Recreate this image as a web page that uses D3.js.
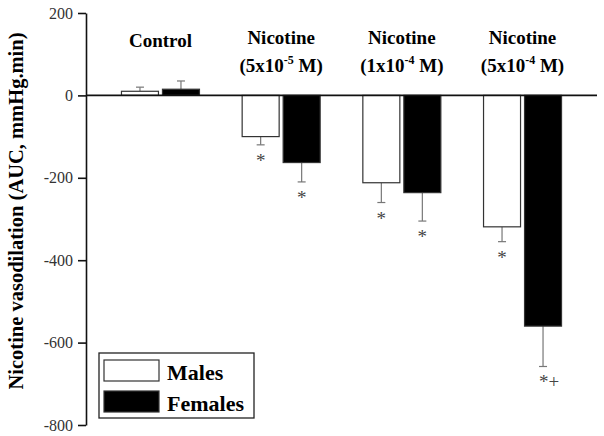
<!DOCTYPE html>
<html>
<head>
<meta charset="utf-8">
<script src="https://cdn.jsdelivr.net/npm/d3@7"></script>
<style>
  body { margin: 0; background: #fff; }
  svg text { font-family: "Liberation Serif", "Times New Roman", Times, "DejaVu Serif", serif; }
</style>
</head>
<body>
<div id="chart"></div>
<script>
// group labels (second line holds the concentration, "^" marks the exponent)
const groupTitles = ["Control", "Nicotine", "Nicotine", "Nicotine"];
const groupConc = ["", "(5x10^-5^ M)", "(1x10^-4^ M)", "(5x10^-4^ M)"];

const males = [10, -100, -212, -319];
const malesErr = [10, 20, 48, 36];
const females = [15, -163, -236, -560];
const femalesErr = [20, 47, 69, 98];
const malesSig = ["", "*", "*", "*"];
const femalesSig = ["", "*", "*", "*+"];

const yTicks = [200, 0, -200, -400, -600, -800];
const legendLabels = ["Males", "Females"];

const serif = '"Liberation Serif", "Times New Roman", Times, serif';
const width = 604, height = 436;
const margin = { top: 13, right: 7, bottom: 11, left: 86 };

const svg = d3.select('#chart')
  .append('svg')
  .attr('width', width)
  .attr('height', height)
  .attr('font-family', serif);

const y = d3.scaleLinear()
  .domain([-800, 200])
  .range([height - margin.bottom, margin.top]);

const x = d3.scalePoint()
  .domain(d3.range(groupTitles.length))
  .range([margin.left, width - margin.right])
  .padding(0.617);

const barW = 37, gap = 2;

// y axis
const yAxis = svg.append('g')
  .attr('transform', 'translate(' + margin.left + ',0)')
  .call(d3.axisLeft(y).tickValues(yTicks).tickFormat(d => String(d))
    .tickSize(8).tickSizeOuter(0).tickPadding(5));
yAxis.attr('font-family', serif);
yAxis.select('.domain').attr('stroke', '#111').attr('stroke-width', 1.6);
yAxis.selectAll('.tick line').attr('stroke', '#111').attr('stroke-width', 1.6);
yAxis.selectAll('.tick text')
  .attr('font-size', 16)
  .attr('fill', '#333');

// axis title
svg.append('text')
  .attr('transform', 'translate(23,211) rotate(-90)')
  .attr('text-anchor', 'middle')
  .attr('font-size', 20.5)
  .attr('font-weight', 'bold')
  .text('Nicotine vasodilation (AUC, mmHg.min)');

// bars
const bars = [
  { vals: males, errs: malesErr, sig: malesSig, off: -gap - barW, fill: '#fff' },
  { vals: females, errs: femalesErr, sig: femalesSig, off: gap, fill: '#000' }
];

bars.forEach(s => {
  const g = svg.append('g');
  s.vals.forEach((v, i) => {
    const bx = x(i) + s.off;
    const cx = bx + barW / 2;
    const dir = v >= 0 ? 1 : -1;
    const tip = v + dir * s.errs[i];
    // error bar
    g.append('line')
      .attr('x1', cx).attr('x2', cx)
      .attr('y1', y(v)).attr('y2', y(tip))
      .attr('stroke', '#777').attr('stroke-width', 1.2);
    g.append('line')
      .attr('x1', cx - 4).attr('x2', cx + 4)
      .attr('y1', y(tip)).attr('y2', y(tip))
      .attr('stroke', '#777').attr('stroke-width', 1.2);
    g.append('rect')
      .attr('x', bx)
      .attr('y', y(Math.max(0, v)))
      .attr('width', barW)
      .attr('height', Math.abs(y(v) - y(0)))
      .attr('fill', s.fill)
      .attr('stroke', '#333')
      .attr('stroke-width', 1.2);
    if (s.sig[i]) {
      g.append('text')
        .attr('x', cx + (s.sig[i].length > 1 ? 6 : 0))
        .attr('y', y(tip) + 22)
        .attr('text-anchor', 'middle')
        .attr('font-size', 19)
        .attr('fill', '#444')
        .text(s.sig[i]);
    }
  });
});

// zero line
svg.append('line')
  .attr('x1', margin.left).attr('x2', width - margin.right)
  .attr('y1', y(0)).attr('y2', y(0))
  .attr('stroke', '#111').attr('stroke-width', 1.6);

// group labels
groupTitles.forEach((t, i) => {
  const single = !groupConc[i];
  svg.append('text')
    .attr('x', x(i))
    .attr('y', single ? 47 : 44)
    .attr('text-anchor', 'middle')
    .attr('font-size', 19)
    .attr('font-weight', 'bold')
    .text(t);
  if (!single) {
    const parts = groupConc[i].split('^');
    const txt = svg.append('text')
      .attr('x', x(i))
      .attr('y', 72)
      .attr('text-anchor', 'middle')
      .attr('font-size', 19)
      .attr('font-weight', 'bold');
    txt.append('tspan').text(parts[0]);
    txt.append('tspan').attr('dy', -8).attr('font-size', 12).text(parts[1]);
    txt.append('tspan').attr('dy', 8).text(parts[2]);
  }
});

// legend
const lg = svg.append('g').attr('transform', 'translate(99,353)');
lg.append('rect')
  .attr('width', 155).attr('height', 65)
  .attr('fill', '#fff').attr('stroke', '#222').attr('stroke-width', 1.3);
legendLabels.forEach((l, i) => {
  lg.append('rect')
    .attr('x', 5).attr('y', 7 + i * 31)
    .attr('width', 55).attr('height', 21)
    .attr('fill', i ? '#000' : '#fff')
    .attr('stroke', '#333').attr('stroke-width', 1.2);
  lg.append('text')
    .attr('x', 68).attr('y', 27 + i * 31)
    .attr('font-size', 22)
    .attr('font-weight', 'bold')
    .text(l);
});
</script>
</body>
</html>
